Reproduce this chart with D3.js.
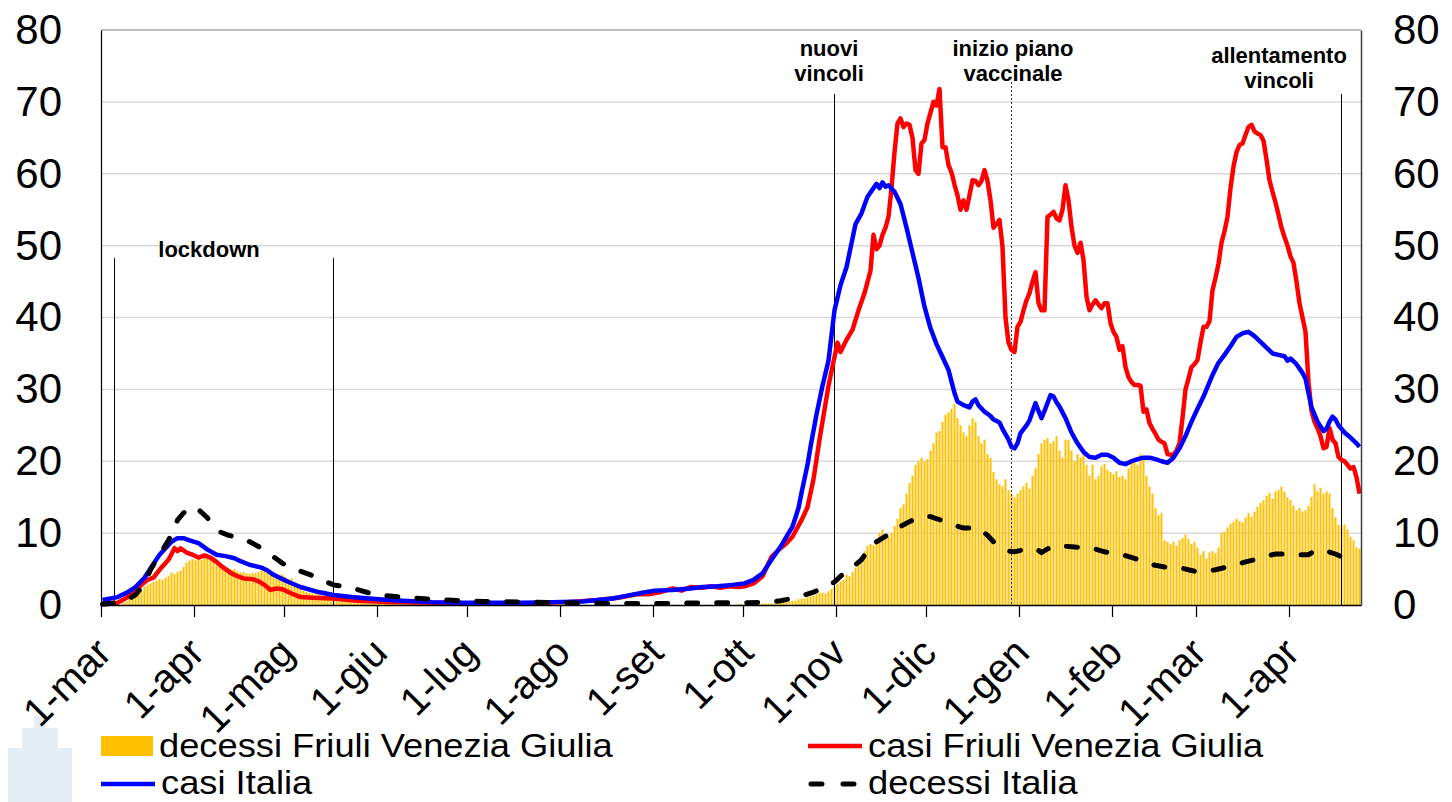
<!DOCTYPE html>
<html>
<head>
<meta charset="utf-8">
<script src="https://cdn.jsdelivr.net/npm/d3@7"></script>
<style>
  body { margin: 0; background: #fff; }
  svg { display: block; font-family: "Liberation Sans", Arial, sans-serif; }
</style>
</head>
<body>
<div id="chart"></div>
<script>
// plot box
const W = 1452, H = 802;
const plot = { left: 101, right: 1361, top: 30, bottom: 605 };

// first day of the series (day index 0) and day after the last one
const startDate = new Date(Date.UTC(2020, 2, 1));
const endDate = new Date(Date.UTC(2021, 3, 25));

// x axis ticks
const tickDates = ["2020-03-01", "2020-04-01", "2020-05-01", "2020-06-01", "2020-07-01", "2020-08-01",
  "2020-09-01", "2020-10-01", "2020-11-01", "2020-12-01", "2021-01-01", "2021-02-01",
  "2021-03-01", "2021-04-01"];
const tickLabels = ["1-mar", "1-apr", "1-mag", "1-giu", "1-lug", "1-ago", "1-set", "1-ott",
  "1-nov", "1-dic", "1-gen", "1-feb", "1-mar", "1-apr"];
const yTicks = [0, 10, 20, 30, 40, 50, 60, 70, 80];

// decessi Friuli Venezia Giulia, one value per day from 1 mar 2020
const decessiFVG = [
  // mar 2020
  0, 0, 0, 0, 0, 0, 0, 0.3, 0.5, 0.8, 1.0, 1.2, 1.8, 2.0, 2.5, 2.8, 3.0, 3.2, 3.4, 3.6, 3.5, 3.8, 4.0, 4.5, 4.3, 4.6, 4.8, 5.3, 5.9, 6.2, 6.4,
  // apr
  6.2, 6.5, 6.3, 6.6, 6.4, 6.5, 6.0, 5.6, 5.4, 5.2, 5.0, 5.1, 4.9, 5.0, 4.7, 4.5, 4.6, 4.4, 4.3, 4.5, 4.4, 4.6, 4.8, 4.7, 4.6, 4.5, 4.3, 4.4, 4.1, 4.3,
  // mag
  3.9, 3.6, 3.7, 3.2, 2.6, 2.3, 2.0, 1.8, 1.7, 1.6, 1.5, 1.5, 1.4, 1.3, 1.3, 1.2, 1.2, 1.1, 1.0, 0.9, 0.8, 0.8, 0.7, 0.6, 0.6, 0.5, 0.5, 0.4, 0.4, 0.3, 0.3,
  // giu
  0.3, 0.2, 0.2, 0.2, 0.2, 0.2, 0.2, 0.2, 0.2, 0.1, 0.1, 0.1, 0.1, 0.1, 0.1, 0.1, 0.1, 0.1, 0.1, 0.1, 0.1, 0.1, 0.1, 0.1, 0.1, 0.1, 0.1, 0.1, 0.1, 0.1,
  // lug
  0, 0, 0, 0, 0, 0, 0, 0, 0, 0, 0, 0, 0, 0, 0, 0, 0, 0, 0, 0, 0, 0, 0, 0, 0, 0, 0, 0, 0, 0, 0,
  // ago
  0, 0, 0, 0, 0, 0, 0, 0, 0, 0, 0, 0, 0, 0, 0, 0, 0, 0, 0, 0, 0, 0, 0, 0, 0, 0, 0, 0, 0, 0, 0,
  // set
  0, 0, 0, 0, 0, 0, 0, 0, 0, 0, 0, 0, 0, 0, 0, 0, 0, 0, 0, 0, 0, 0, 0, 0, 0, 0, 0, 0, 0.1, 0.1,
  // ott
  0.1, 0.1, 0.1, 0.1, 0.2, 0.1, 0.2, 0.2, 0.2, 0.2, 0.2, 0.2, 0.3, 0.4, 0.4, 0.5, 0.6, 0.6, 0.8, 0.9, 0.9, 1.1, 1.2, 1.3, 1.5, 1.7, 1.7, 1.6, 1.9, 2.2, 2.6,
  // nov
  2.9, 3.3, 3.5, 4.2, 4.0, 4.6, 5.2, 5.7, 6.5, 7.5, 8.2, 8.5, 8.3, 9.0, 10.0, 10.5, 9.8, 9.5, 10.0, 11.0, 12.0, 13.5, 14.0, 15.5, 17.0, 18.0, 19.5, 20.0, 20.5, 20.0,
  // dic
  20.3, 21.5, 22.5, 24.0, 24.2, 25.5, 26.5, 26.8, 27.3, 28.0, 26.0, 25.0, 24.0, 23.5, 25.0, 26.0, 25.5, 23.5, 22.5, 23.0, 21.0, 20.5, 18.5, 17.5, 16.8, 16.5, 17.5, 16.0, 15.5, 15.0, 15.5,
  // gen 2021
  16.0, 16.5, 17.0, 16.2, 18.0, 19.0, 21.0, 22.5, 23.0, 23.2, 22.5, 22.8, 23.5, 21.5, 20.5, 23.0, 23.0, 21.5, 20.0, 21.0, 20.5, 21.0, 19.5, 18.0, 19.5, 17.5, 18.0, 19.3, 19.6, 18.8, 18.5,
  // feb
  18.2, 18.6, 17.8, 18.0, 17.5, 19.0, 20.2, 20.5, 19.5, 21.0, 20.3, 18.0, 16.5, 15.5, 13.5, 12.5, 12.8, 9.0, 8.8, 8.5, 8.8, 8.3, 9.0, 9.3, 9.8, 9.2, 8.5, 8.8,
  // mar
  8.0, 7.0, 7.5, 6.5, 7.3, 7.5, 7.2, 8.0, 10.0, 10.2, 10.8, 11.3, 11.6, 12.0, 11.7, 11.5, 12.2, 12.8, 12.3, 13.0, 13.7, 14.2, 14.6, 15.2, 15.6, 14.8, 15.8, 16.0, 16.5, 15.8, 15.0,
  // apr
  14.6, 13.8, 13.2, 13.5, 13.0, 13.2, 13.8, 15.0, 16.8, 15.8, 16.3, 15.5, 15.8, 15.5, 13.5, 12.2, 11.2, 11.0, 11.2, 10.5, 9.5, 9.0, 8.0, 7.8
];

// casi Friuli Venezia Giulia: [day index, value]
const casiFVG = [
  [0, 0.2], [5, 0.3], [8, 1.0], [11, 2.1], [13, 2.8], [15, 3.5], [17, 3.8], [19, 4.9], [22, 6.3], [24, 7.9], [25, 7.5],
  [26, 7.9], [28, 7.3], [30, 7.0], [32, 6.6], [34, 6.9], [36, 6.6], [38, 6.0], [40, 5.3], [43, 4.4], [45, 4.0], [47, 3.7],
  [50, 3.6], [52, 3.3], [54, 2.8], [56, 2.1], [58, 2.3], [60, 2.2], [63, 1.6], [66, 1.1], [70, 1.0], [77, 0.9], [85, 0.6],
  [95, 0.4], [110, 0.3], [125, 0.2], [140, 0.2], [155, 0.4], [165, 0.7], [172, 1.0], [178, 1.5], [182, 1.5], [186, 1.8],
  [190, 2.3], [193, 2.0], [196, 2.5], [200, 2.4], [203, 2.6], [206, 2.4], [209, 2.6], [212, 2.5], [214, 2.6], [217, 3.0],
  [220, 4.0], [223, 6.7], [226, 7.9], [228, 8.6], [230, 9.5], [233, 11.8], [235, 13.6], [237, 17.5], [239, 23.0], [240, 25.5],
  [242, 30.5], [243, 32.5], [245, 36.5], [246, 35.2], [248, 36.9], [250, 38.3], [252, 41.0], [254, 43.4],
  [256, 46.5], [257, 51.5], [258, 49.5], [259, 50.0], [260, 51.5], [261, 52.5], [262, 54.0], [263, 58.0], [264, 63.0],
  [265, 67.0], [266, 67.7], [267, 66.5], [268, 67.0], [269, 66.8], [270, 65.0], [271, 60.5], [272, 60.0], [273, 64.2],
  [274, 64.7], [275, 67.0], [276, 68.5], [277, 70.0], [278, 69.5], [279, 71.8], [280, 63.7], [281, 63.7], [282, 61.2],
  [283, 60.2], [284, 58.5], [285, 57.0], [286, 55.0], [287, 56.3], [288, 55.0], [289, 57.0], [290, 59.1], [291, 59.0],
  [292, 58.4], [293, 59.0], [294, 60.5], [295, 59.0], [296, 56.3], [297, 52.5], [298, 53.0], [299, 53.6], [300, 49.8],
  [301, 40.0], [302, 36.5], [303, 35.5], [304, 35.2], [305, 38.7], [306, 39.4], [307, 41.0], [308, 42.4], [309, 43.4],
  [310, 45.0], [311, 46.3], [312, 42.0], [313, 41.0], [314, 41.0], [315, 54.0], [316, 54.3], [317, 54.7], [318, 53.8],
  [319, 53.5], [320, 55.0], [321, 58.4], [322, 56.3], [323, 52.6], [324, 50.0], [325, 49.0], [326, 50.4], [327, 48.0],
  [328, 42.9], [329, 41.0], [330, 41.8], [331, 42.4], [332, 41.8], [333, 41.3], [334, 42.0], [335, 42.0], [336, 39.2],
  [337, 38.0], [338, 37.3], [339, 35.5], [340, 36.0], [341, 33.1], [342, 31.7], [343, 31.0], [344, 30.6], [345, 30.6],
  [346, 30.5], [347, 26.9], [348, 27.2], [349, 25.3], [350, 24.5], [351, 23.8], [352, 23.0], [353, 22.7], [354, 22.5],
  [355, 21.0], [356, 20.9], [357, 20.9], [358, 21.5], [359, 22.5], [360, 26.0], [361, 30.0], [362, 31.5], [363, 33.1],
  [364, 33.5], [365, 34.1], [366, 36.5], [367, 38.7], [368, 38.7], [369, 39.5], [370, 43.8], [371, 45.5], [372, 47.5],
  [373, 50.4], [374, 52.0], [375, 54.0], [376, 58.0], [377, 61.0], [378, 63.0], [379, 64.0], [380, 64.2], [381, 65.4],
  [382, 66.5], [383, 66.8], [384, 65.9], [385, 65.6], [386, 65.4], [387, 64.6], [388, 62.0], [389, 59.1], [390, 57.5],
  [391, 56.0], [392, 54.3], [393, 52.5], [394, 51.2], [395, 50.0], [396, 48.5], [397, 47.6], [398, 45.0], [399, 42.0],
  [400, 40.0], [401, 38.0], [402, 31.0], [403, 27.0], [404, 25.5], [405, 24.6], [406, 23.5], [407, 21.8], [408, 22.0],
  [409, 24.6], [410, 23.0], [411, 22.5], [412, 20.6], [413, 20.2], [414, 20.0], [415, 19.5], [416, 19.0], [417, 19.2],
  [418, 17.8], [419, 15.5]
];

// casi Italia: [day index, value]
const casiItalia = [
  [0, 0.7], [5, 1.1], [8, 1.7], [11, 2.5], [14, 3.8], [16, 5.1], [19, 7.0], [21, 7.9], [23, 8.8], [25, 9.3], [27, 9.3],
  [29, 9.0], [32, 8.6], [35, 7.7], [38, 7.0], [41, 6.8], [44, 6.5], [46, 6.1], [49, 5.6], [53, 5.2], [55, 4.8], [57, 4.2],
  [60, 3.6], [62, 3.2], [66, 2.5], [72, 1.8], [77, 1.4], [83, 1.1], [92, 0.8], [100, 0.6], [110, 0.4], [120, 0.3],
  [130, 0.3], [140, 0.3], [150, 0.4], [160, 0.5], [165, 0.7], [170, 0.9], [175, 1.3], [180, 1.7], [184, 2.0], [190, 2.1],
  [196, 2.3], [200, 2.5], [205, 2.6], [210, 2.8], [214, 3.0], [217, 3.5], [220, 4.4], [223, 6.3], [226, 8.1], [228, 9.5],
  [230, 10.9], [232, 13.5], [233, 15.6], [235, 19.5], [236, 22.0], [238, 26.5], [240, 30.5], [242, 34.0], [244, 41.0],
  [246, 44.5], [248, 47.0], [250, 51.0], [251, 53.0], [253, 54.5], [255, 56.8], [257, 58.0], [258, 58.6], [259, 58.0],
  [260, 58.8], [261, 58.2], [262, 58.4], [264, 57.5], [266, 55.8], [268, 52.5], [270, 49.0], [272, 45.5], [274, 41.5],
  [276, 38.5], [278, 36.3], [280, 34.5], [282, 32.7], [284, 29.5], [285, 28.3], [287, 27.8], [289, 27.5], [290, 28.3],
  [291, 28.6], [292, 27.8], [294, 26.9], [296, 26.3], [297, 25.8], [299, 25.4], [300, 24.5], [302, 23.0], [303, 22.0],
  [304, 21.8], [305, 22.5], [306, 23.9], [308, 25.0], [309, 25.7], [311, 28.1], [312, 27.0], [313, 26.0], [314, 27.0],
  [316, 29.2], [317, 29.0], [318, 28.2], [319, 27.6], [321, 26.0], [323, 24.0], [325, 22.5], [327, 21.3], [329, 20.6],
  [331, 20.5], [333, 20.9], [335, 20.9], [337, 20.5], [339, 19.8], [341, 19.6], [343, 20.0], [345, 20.3], [347, 20.5],
  [349, 20.5], [351, 20.3], [353, 20.0], [355, 19.8], [357, 20.5], [359, 21.8], [361, 23.5], [363, 25.5], [365, 27.3],
  [367, 29.0], [369, 31.0], [370, 32.0], [372, 33.7], [374, 34.8], [376, 36.0], [378, 37.3], [380, 37.8], [382, 38.0],
  [384, 37.4], [386, 36.6], [388, 35.8], [390, 35.0], [392, 34.8], [394, 34.6], [395, 34.0], [396, 34.3], [398, 33.5],
  [400, 32.3], [401, 31.5], [402, 29.5], [403, 27.5], [405, 25.5], [407, 24.2], [408, 24.5], [409, 25.5], [410, 26.2],
  [411, 25.8], [412, 25.0], [414, 24.0], [416, 23.3], [418, 22.5], [419, 22.0]
];

// decessi Italia: [day index, value]
const decessiItalia = [
  [0, 0.1], [5, 0.3], [8, 0.7], [11, 1.4], [14, 3.0], [16, 4.9], [19, 7.0], [22, 9.0], [25, 11.8], [27, 12.8], [29, 13.5],
  [31, 13.6], [33, 12.9], [35, 12.1], [37, 11.0], [39, 10.2], [42, 9.7], [44, 9.5], [47, 9.2], [50, 8.6], [53, 7.9],
  [57, 6.7], [60, 5.8], [63, 5.1], [66, 4.7], [70, 4.1], [73, 3.5], [77, 2.8], [83, 2.4], [91, 1.4], [103, 1.0],
  [114, 0.7], [127, 0.5], [140, 0.4], [155, 0.3], [170, 0.2], [185, 0.2], [200, 0.3], [214, 0.3], [222, 0.4], [226, 0.6],
  [231, 1.0], [234, 1.4], [237, 1.8], [241, 2.5], [244, 3.2], [246, 4.0], [249, 4.9], [253, 6.3], [256, 8.1], [258, 8.8],
  [260, 9.3], [263, 10.1], [265, 10.7], [269, 11.6], [272, 12.2], [274, 12.3], [276, 12.3], [278, 12.0], [281, 11.6],
  [284, 11.1], [287, 10.7], [290, 10.7], [292, 10.7], [295, 9.7], [297, 8.8], [300, 7.9], [302, 7.5], [304, 7.4],
  [306, 7.6], [308, 7.8], [310, 7.9], [312, 7.6], [313, 7.3], [315, 7.8], [318, 8.3], [320, 8.2], [323, 8.1], [326, 8.0],
  [330, 7.9], [334, 7.4], [337, 7.2], [340, 7.0], [344, 6.5], [347, 6.0], [350, 5.6], [354, 5.3], [357, 5.2], [360, 5.1],
  [363, 4.8], [365, 4.6], [368, 4.7], [371, 4.9], [375, 5.3], [378, 5.6], [381, 6.0], [384, 6.3], [386, 6.5], [389, 6.9],
  [391, 7.1], [394, 7.1], [396, 7.1], [399, 7.0], [402, 7.0], [404, 7.5], [406, 7.7], [408, 7.5], [411, 7.1], [413, 6.7],
  [415, 6.2]
];

// events marked with vertical lines
const eventDates = ["2020-03-06", "2020-05-18", "2020-11-01", "2020-12-30", "2021-04-19"];
const eventLabels = [["lockdown"], ["nuovi", "vincoli"], ["inizio piano", "vaccinale"], ["allentamento", "vincoli"]];

const legendLabels = ["decessi Friuli Venezia Giulia", "casi Friuli Venezia Giulia", "casi Italia", "decessi Italia"];

const colors = { bars: "#ffc000", fvg: "#ff0000", italia: "#0000ff", morti: "#000000" };
const DAY = 864e5;
const dayDate = (i) => new Date(startDate.getTime() + i * DAY);

// scales
const x = d3.scaleUtc().domain([startDate, endDate]).range([plot.left, plot.right]);
const y = d3.scaleLinear().domain([0, 80]).range([plot.bottom, plot.top]);

const svg = d3.select("#chart").append("svg")
  .attr("width", W)
  .attr("height", H);

// faint logo at bottom left
const logo = svg.append("g").attr("fill", "#e4eef4");
logo.append("rect").attr("x", 8).attr("y", 748).attr("width", 64).attr("height", 54);
logo.append("rect").attr("x", 22).attr("y", 728).attr("width", 36).attr("height", 22);
logo.append("rect").attr("x", 34).attr("y", 716).attr("width", 12).attr("height", 14);

// gridlines
svg.append("g")
  .selectAll("line")
  .data(yTicks.filter((v) => v > 0 && v < 80))
  .enter()
  .append("line")
  .attr("x1", plot.left)
  .attr("x2", plot.right)
  .attr("y1", (d) => y(d))
  .attr("y2", (d) => y(d))
  .attr("stroke", "#d9d9d9")
  .attr("stroke-width", 1.5);

// top border
svg.append("line")
  .attr("x1", plot.left).attr("x2", plot.right)
  .attr("y1", plot.top).attr("y2", plot.top)
  .attr("stroke", "#a6a6a6").attr("stroke-width", 1.5);

// bars
svg.append("g")
  .selectAll("rect")
  .data(decessiFVG)
  .enter()
  .append("rect")
  .attr("x", (d, i) => x(dayDate(i)) + 0.5)
  .attr("width", 2)
  .attr("y", (d) => y(d))
  .attr("height", (d) => y(0) - y(d))
  .attr("fill", colors.bars);

// event lines
const eventTops = [258, 258, 94, 82, 94];
svg.append("g")
  .selectAll("line")
  .data(eventDates)
  .enter()
  .append("line")
  .attr("x1", (d) => Math.round(x(new Date(d))) - 1.5)
  .attr("x2", (d) => Math.round(x(new Date(d))) - 1.5)
  .attr("y1", (d, i) => eventTops[i])
  .attr("y2", plot.bottom)
  .attr("stroke", (d, i) => (i === 3 ? "#333" : "#000"))
  .attr("stroke-width", 1)
  .attr("stroke-dasharray", (d, i) => (i === 3 ? "2,2" : null));

// event labels
const labelPos = [
  { x: 209, y: 257 },
  { x: x(new Date(eventDates[2])) - 7, y: 56 },
  { x: x(new Date(eventDates[3])), y: 56 },
  { x: 1279, y: 63 }
];
eventLabels.forEach((lines, k) => {
  const t = svg.append("text")
    .attr("text-anchor", "middle")
    .attr("font-size", 22)
    .attr("font-weight", "bold")
    .attr("fill", "#000");
  lines.forEach((s, j) => {
    t.append("tspan")
      .attr("x", labelPos[k].x)
      .attr("y", labelPos[k].y + j * 24.5)
      .text(s);
  });
});

// lines
const line = d3.line()
  .x((d) => x(dayDate(d[0])) + 1.5)
  .y((d) => y(d[1]));

svg.append("path")
  .datum(casiFVG)
  .attr("d", line)
  .attr("fill", "none")
  .attr("stroke", colors.fvg)
  .attr("stroke-width", 4.5)
  .attr("stroke-linejoin", "round");

svg.append("path")
  .datum(casiItalia)
  .attr("d", line)
  .attr("fill", "none")
  .attr("stroke", colors.italia)
  .attr("stroke-width", 4.5)
  .attr("stroke-linejoin", "round");

svg.append("path")
  .datum(decessiItalia)
  .attr("d", line)
  .attr("fill", "none")
  .attr("stroke", colors.morti)
  .attr("stroke-width", 5)
  .attr("stroke-linecap", "round")
  .attr("stroke-dasharray", "11,19");

// x axis
const xAxis = svg.append("g")
  .attr("transform", `translate(0,${plot.bottom})`)
  .call(
    d3.axisBottom(x)
      .tickValues(tickDates.map((d) => new Date(d)))
      .tickFormat((d, i) => tickLabels[i])
      .tickSize(12)
      .tickSizeOuter(0)
  );
xAxis.select(".domain").attr("stroke", "#000").attr("stroke-width", 1.5);
xAxis.selectAll(".tick line").attr("stroke", "#000").attr("stroke-width", 1.2);
xAxis.selectAll(".tick text")
  .attr("y", null)
  .attr("dy", null)
  .attr("text-anchor", "end")
  .attr("transform", "translate(12,50) rotate(-45)")
  .attr("font-size", 40)
  .attr("font-family", "Liberation Sans, Arial, sans-serif")
  .attr("fill", "#000");

// left y axis
const yLeft = svg.append("g")
  .attr("transform", `translate(${plot.left},0)`)
  .call(d3.axisLeft(y).tickValues(yTicks).tickSize(0).tickPadding(39));
yLeft.select(".domain").attr("stroke", "#000").attr("stroke-width", 1.2);
yLeft.selectAll(".tick text")
  .attr("font-size", 42)
  .attr("font-family", "Liberation Sans, Arial, sans-serif")
  .attr("fill", "#000");

// right y axis
const yRight = svg.append("g")
  .attr("transform", `translate(${plot.right},0)`)
  .call(d3.axisRight(y).tickValues(yTicks).tickSize(0).tickPadding(32));
yRight.select(".domain").attr("stroke", "#404040").attr("stroke-width", 1.5);
yRight.selectAll(".tick text")
  .attr("font-size", 42)
  .attr("font-family", "Liberation Sans, Arial, sans-serif")
  .attr("fill", "#000");

// legend (text a bit wider than tall, as in the original)
const legend = svg.append("g").attr("font-size", 33).attr("fill", "#000");
const legendItems = [
  { col: 101, row: 746, kind: "bar", color: colors.bars },
  { col: 808, row: 746, kind: "line", color: colors.fvg },
  { col: 101, row: 784, kind: "line", color: colors.italia },
  { col: 808, row: 784, kind: "dash", color: colors.morti }
];
legendItems.forEach((it, k) => {
  if (it.kind === "bar") {
    legend.append("rect")
      .attr("x", it.col).attr("y", it.row - 10)
      .attr("width", 52).attr("height", 20)
      .attr("fill", it.color);
  } else {
    legend.append("line")
      .attr("x1", it.col + (it.kind === "dash" ? 3 : 0)).attr("x2", it.col + (it.kind === "dash" ? 50 : 54))
      .attr("y1", it.row).attr("y2", it.row)
      .attr("stroke", it.color)
      .attr("stroke-width", it.kind === "dash" ? 5 : 4.5)
      .attr("stroke-linecap", it.kind === "dash" ? "round" : "butt")
      .attr("stroke-dasharray", it.kind === "dash" ? "11,21" : null);
  }
  const tx = it.col + (it.kind === "bar" ? 58 : 60);
  const ty = it.row + (k < 2 ? 11 : 10);
  legend.append("text")
    .attr("transform", `translate(${tx},${ty}) scale(1.1,1)`)
    .text(legendLabels[k]);
});
</script>
</body>
</html>
